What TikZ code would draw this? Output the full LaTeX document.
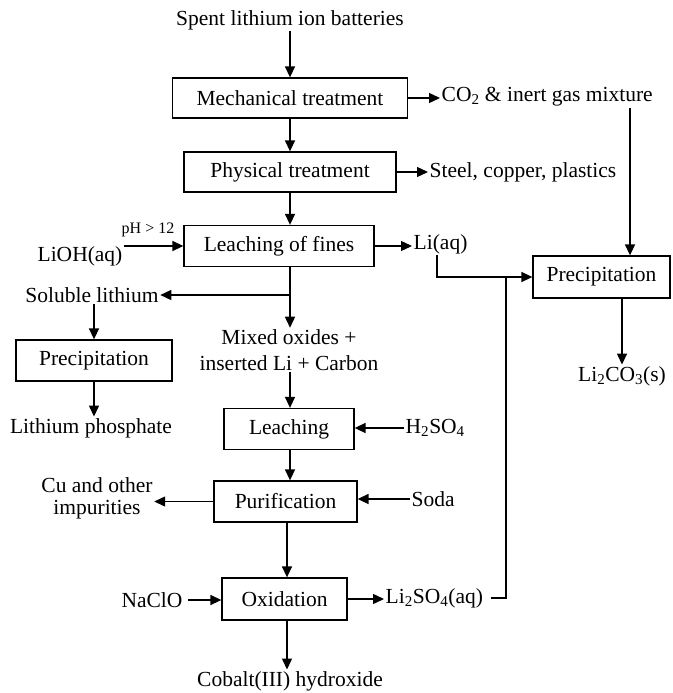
\documentclass[tikz,border=0pt]{standalone}
\usepackage{fontspec}
\setmainfont{Liberation Serif}
\usepackage{tikz}
\usetikzlibrary{arrows.meta, positioning}
\tikzset{
  stagebox/.style={draw, line width=1.3pt, inner sep=0pt, font=\fontsize{21.5}{25}\selectfont},
  label/.style={inner sep=1.5pt, font=\fontsize{21.5}{25}\selectfont, align=center},
  flow/.style={line width=1.4pt, -{Triangle[length=11pt, width=10pt]}},
  feed/.style={line width=1.4pt}
}

\begin{document}
\begin{tikzpicture}[x=1pt, y=-1pt]
\useasboundingbox (0,0) rectangle (672,693);

% ── main column ───────────────────────────────────────────────────────────────
\coordinate (spine) at (290,0);
\node[label] (spent) at (290,20) {Spent lithium ion batteries};
\node[stagebox, minimum width=235pt, minimum height=40pt] (mech) at (290,98) {Mechanical treatment};
\node[stagebox, minimum width=212pt, minimum height=40pt] (phys) at (290,172) {Physical treatment};
\node[stagebox, minimum width=190pt, minimum height=41pt] (fines) at (279,246) {Leaching of fines};
\node[label] (mixed) at (289,350) {Mixed oxides +\\[1pt]inserted Li + Carbon};
\node[stagebox, minimum width=130pt, minimum height=41pt] (leach) at (289,429) {Leaching};
\node[stagebox, minimum width=143pt, minimum height=41pt] (purif) at (285.5,501.5) {Purification};
\node[stagebox, minimum width=125pt, minimum height=42pt] (oxid) at (284.5,599) {Oxidation};
\node[label] (cobalt) at (290,681) {Cobalt(III) hydroxide};

\draw[flow] (spent.south -| spine) -- (mech.north -| spine);
\draw[flow] (mech.south -| spine) -- (phys.north -| spine);
\draw[flow] (phys.south -| spine) -- (fines.north -| spine);
\coordinate (split) at (spine |- 0,295);
\draw[feed] (fines.south -| spine) -- (split);
\draw[flow] (split) -- (mixed.north -| spine);
\draw[flow] (mixed.south -| spine) -- (leach.north -| spine);
\draw[flow] (leach.south -| spine) -- (purif.north -| spine);
\draw[flow] (purif.south -| 287,0) -- (oxid.north -| 287,0);
\draw[flow] (oxid.south -| 287,0) -- (cobalt.north -| 287,0);

% ── side streams ──────────────────────────────────────────────────────────────
\node[label, anchor=west] (co2) at (440,97) {CO\textsubscript{2} \& inert gas mixture};
\node[label, anchor=west] (steel) at (428,172) {Steel, copper, plastics};
\node[label] (lioh) at (80,256) {LiOH(aq)};
\node[label, font=\fontsize{16}{18}\selectfont] (ph) at (148,230) {pH > 12};
\node[label, anchor=west] (liaq) at (412,244) {Li(aq)};
\node[label] (soluble) at (92,295) {Soluble lithium};
\node[label, anchor=west] (acid) at (404,428) {H\textsubscript{2}SO\textsubscript{4}};
\node[label] (copper) at (97,498) {Cu and other\\[-3pt]impurities};
\node[label, anchor=west] (soda) at (410,499) {Soda};
\node[label] (naclo) at (152,600) {NaClO};
\node[label, anchor=west] (liso) at (384,598) {Li\textsubscript{2}SO\textsubscript{4}(aq)};

\draw[flow] (mech.east) -- (mech.east -| co2.west);
\draw[flow] (phys.east) -- (phys.east -| steel.west);
\draw[flow] (fines.west -| lioh.east) -- (fines.west);
\draw[flow] (fines.east) -- (fines.east -| liaq.west);
\draw[flow] (split) -- (soluble.east);
\draw[flow] (acid.west) -- (acid.west -| leach.east);
\draw[flow] (purif.west) -- (purif.west -| copper.east);
\draw[flow] (soda.west) -- (soda.west -| purif.east);
\draw[flow] ([xshift=4pt]naclo.east) -- (naclo.east -| oxid.west);
\draw[flow] (oxid.east) -- (oxid.east -| liso.west);

% ── lithium recovery ──────────────────────────────────────────────────────────
\node[stagebox, minimum width=156pt, minimum height=41pt] (precl) at (94,360.5) {Precipitation};
\node[label] (phosphate) at (91,428) {Lithium phosphate};
\node[stagebox, minimum width=137pt, minimum height=42pt] (precr) at (601.5,277) {Precipitation};
\node[label] (carbonate) at (622,376) {Li\textsubscript{2}CO\textsubscript{3}(s)};

\draw[flow] (soluble.south -| precl.north) -- (precl.north);
\draw[flow] (precl.south) -- (phosphate.north -| precl.south);
\coordinate (gas) at (630,0);
\draw[flow] (co2.south -| gas) -- (precr.north -| gas);
\draw[flow] (precr.south -| carbonate.north) -- (carbonate.north);
\draw[flow] (liaq.south -| 437,0) |- (precr.west);
\coordinate (join) at (506,0);
\draw[feed] ([xshift=6pt]liso.east) -| (join |- precr.west);

\end{tikzpicture}
\end{document}
